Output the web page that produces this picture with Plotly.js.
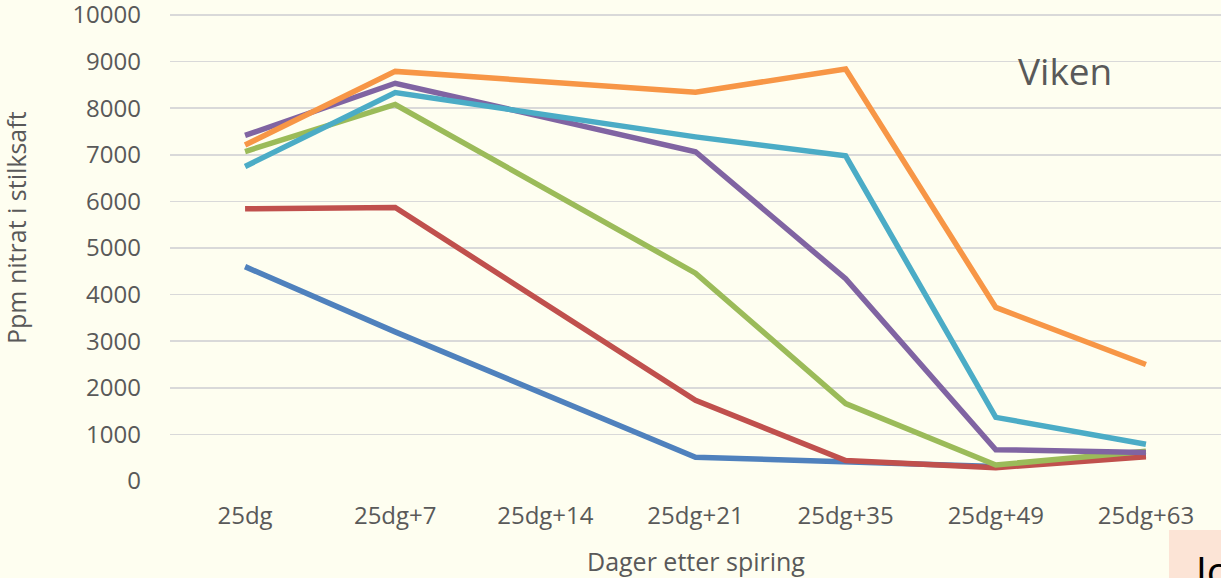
<!DOCTYPE html>
<html>
<head>
<meta charset="utf-8">
<script src="https://cdn.plot.ly/plotly-3.0.1.min.js"></script>
<style>
  html, body { margin: 0; padding: 0; background: #FEFEF0; }
  #chart { width: 1221px; height: 578px; }
</style>
</head>
<body>
<div id="chart"></div>
<script>
const categories = ["25dg", "25dg+7", "25dg+14", "25dg+21", "25dg+35", "25dg+49", "25dg+63"];
const seriesBlue   = [4600, 3200, null, 510, 410, 310, 550];
const seriesRed    = [5840, 5870, null, 1730, 440, 285, 520];
const seriesGreen  = [7070, 8080, null, 4460, 1660, 344, 640];
const seriesPurple = [7415, 8535, null, 7066, 4340, 672, 610];
const seriesCyan   = [6750, 8335, null, 7385, 6979, 1366, 790];
const seriesOrange = [7210, 8790, null, 8345, 8840, 3725, 2500];
const yTickValues  = [0, 1000, 2000, 3000, 4000, 5000, 6000, 7000, 8000, 9000, 10000];

const seriesList = [
  {y: seriesBlue,   color: "#4F81BD"},
  {y: seriesRed,    color: "#C0504D"},
  {y: seriesGreen,  color: "#9BBB59"},
  {y: seriesPurple, color: "#8064A2"},
  {y: seriesCyan,   color: "#4BACC6"},
  {y: seriesOrange, color: "#F79646"}
];

const traces = seriesList.map(s => ({
  type: "scatter",
  mode: "lines",
  x: categories,
  y: s.y,
  connectgaps: true,
  line: {color: s.color, width: 5.5},
  hoverinfo: "skip",
  showlegend: false
}));

const textColor = "#595959";
const layout = {
  width: 1221,
  height: 578,
  margin: {l: 170, r: 0, t: 0, b: 97},
  paper_bgcolor: "#FEFEF0",
  plot_bgcolor: "#FEFEF0",
  font: {family: "Open Sans, sans-serif", color: textColor},
  showlegend: false,
  xaxis: {
    type: "category",
    categoryorder: "array",
    categoryarray: categories,
    range: [-0.5, 6.5],
    showgrid: false,
    zeroline: false,
    showline: false,
    ticks: "",
    ticklabelstandoff: 18,
    tickfont: {size: 24, color: textColor}
  },
  yaxis: {
    range: [0, 10322],
    tickvals: yTickValues,
    ticktext: yTickValues.map(String),
    showgrid: true,
    gridcolor: "#D9D9D9",
    gridwidth: 1.5,
    zeroline: false,
    showline: false,
    ticks: "",
    ticklabelstandoff: 28,
    ticklabeloverflow: "allow",
    tickfont: {size: 24, color: textColor}
  },
  shapes: [{
    type: "rect", xref: "paper", yref: "paper",
    x0: 0.9505, x1: 1.02, y0: -0.102, y1: -0.25,
    fillcolor: "#FCE4D6", line: {width: 0}, layer: "above"
  }],
  annotations: [
    {text: "Viken", xref: "paper", yref: "paper",
     x: (1065 - 170) / 1051, y: (481 - 70) / 481,
     xanchor: "center", yanchor: "middle", showarrow: false,
     font: {size: 37, color: textColor}},
    {text: "Dager etter spiring", xref: "paper", yref: "paper",
     x: 0.5, y: (481 - 561) / 481,
     xanchor: "center", yanchor: "middle", showarrow: false,
     font: {size: 25, color: textColor}},
    {text: "Ppm nitrat i stilksaft", xref: "paper", yref: "paper",
     x: (16 - 170) / 1051, y: (481 - 228) / 481, textangle: -90,
     xanchor: "center", yanchor: "middle", showarrow: false,
     font: {size: 25, color: textColor}},
    {text: "Jo", xref: "paper", yref: "paper",
     x: (1190 - 170) / 1051, y: (481 - 541) / 481,
     xanchor: "left", yanchor: "top", showarrow: false,
     font: {size: 40, color: "#000000"}}
  ]
};

Plotly.newPlot("chart", traces, layout, {staticPlot: true, displayModeBar: false});
</script>
</body>
</html>
